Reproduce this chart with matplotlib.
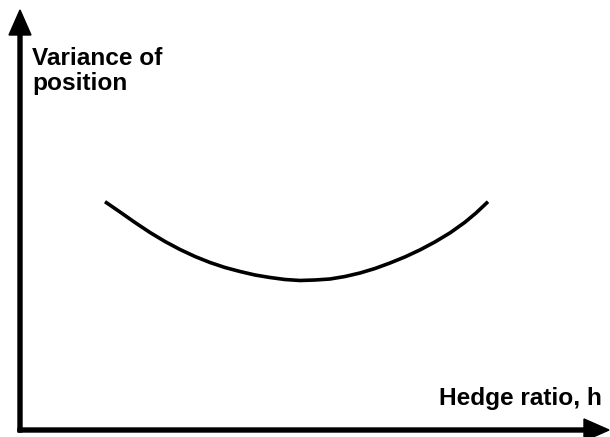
import matplotlib.pyplot as plt

# curve points (pixel coordinates, y down)
curve_x = [105, 120, 135, 150, 165, 180, 195, 210, 225, 240, 255, 270, 285, 300,
           315, 330, 345, 360, 375, 390, 405, 420, 435, 450, 465, 476, 488]
curve_y = [201.7, 212, 222.5, 232.5, 241.5, 249.5, 256.5, 262.5, 267.5, 271.5, 275,
           277.5, 279.5, 280.5, 280, 279, 276.5, 273, 268.5, 263, 256.9, 249.9, 241.9,
           232.9, 222.2, 213, 201.7]

y_label = ["Variance of", "position"]
x_label = "Hedge ratio, h"

fig = plt.figure(figsize=(6.1, 4.37), dpi=100)
ax = fig.add_axes([0, 0, 1, 1])
ax.set_xlim(0, 610)
ax.set_ylim(437, 0)
ax.axis("off")

# axes arrows
ax.arrow(20, 432, 0, -422, width=4, head_width=22, head_length=25,
         length_includes_head=True, color="black")
ax.arrow(18, 430, 591, 0, width=4, head_width=22, head_length=25,
         length_includes_head=True, color="black")

ax.plot(curve_x, curve_y, color="black", lw=2.6, solid_capstyle="butt",
        solid_joinstyle="round")

font = dict(family="Liberation Sans", weight="bold", size=17.6)
ax.text(32, 65, y_label[0], va="baseline", ha="left", **font)
ax.text(32, 90, y_label[1], va="baseline", ha="left", **font)
ax.text(602, 405, x_label, va="baseline", ha="right", **font)

fig.savefig("out.png", dpi=100)
